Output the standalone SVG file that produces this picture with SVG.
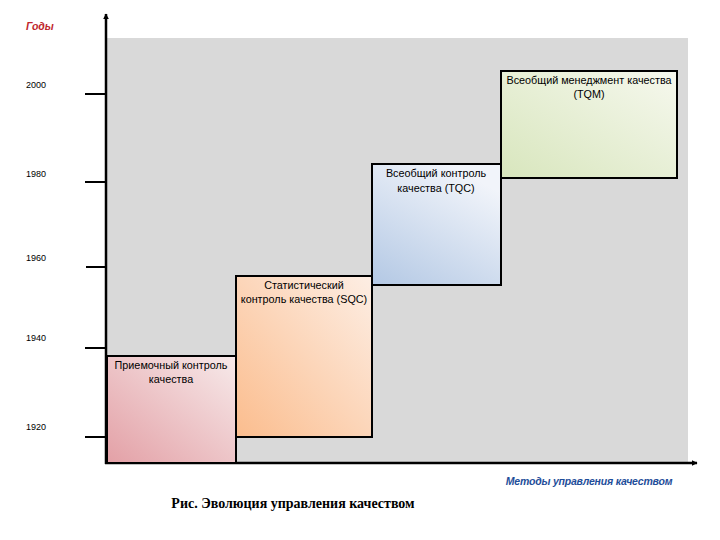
<svg xmlns="http://www.w3.org/2000/svg" width="720" height="540" viewBox="0 0 720 540">
<defs>
<linearGradient id="gGreen" x1="0" y1="1" x2="1" y2="0"><stop offset="0" stop-color="#d8e6bd"/><stop offset="1" stop-color="#f6f8ee"/></linearGradient>
<linearGradient id="gBlue" x1="0" y1="1" x2="0.6" y2="0"><stop offset="0" stop-color="#b3c8e4"/><stop offset="1" stop-color="#f1f4fa"/></linearGradient>
<linearGradient id="gOrange" x1="0" y1="1" x2="1" y2="0"><stop offset="0" stop-color="#fbbd8e"/><stop offset="1" stop-color="#fdeee4"/></linearGradient>
<linearGradient id="gPink" x1="0" y1="1" x2="1" y2="0"><stop offset="0" stop-color="#e3a0a6"/><stop offset="1" stop-color="#f7eaea"/></linearGradient>
<marker id="arr" viewBox="0 0 10 10" refX="9" refY="5" markerWidth="6" markerHeight="6" orient="auto" markerUnits="userSpaceOnUse"><path d="M0,0 L10,5 L0,10 z" fill="#000"/></marker>
<style>
.box{stroke:#000;stroke-width:2}
.lbl{font-family:"Liberation Sans",Arial,sans-serif;font-size:10.8px;fill:#000;text-anchor:middle}
.yr{font-family:"Liberation Sans",Arial,sans-serif;font-size:9px;fill:#000}
.axis{stroke:#000;stroke-width:2.5;fill:none}
.tick{stroke:#000;stroke-width:2}
</style>
</defs>
<rect x="0" y="0" width="720" height="540" fill="#fff"/>
<rect x="107" y="38" width="581" height="425" fill="#d9d9d9"/>
<g id="axes">
<line class="axis" x1="106" y1="464" x2="106" y2="14" marker-end="url(#arr)"/>
<line class="axis" x1="105" y1="463" x2="697" y2="463" marker-end="url(#arr)"/>
<line class="tick" x1="85" y1="94" x2="106" y2="94"/>
<line class="tick" x1="85" y1="182" x2="106" y2="182"/>
<line class="tick" x1="86" y1="267" x2="106" y2="267"/>
<line class="tick" x1="85" y1="348" x2="106" y2="348"/>
<line class="tick" x1="85" y1="437" x2="106" y2="437"/>
</g>
<g id="labels">
<text x="26" y="30" font-family="'Liberation Sans',Arial,sans-serif" font-size="10.5" font-style="italic" font-weight="bold" fill="#c0262d">Годы</text>
<text class="yr" x="26" y="88">2000</text>
<text class="yr" x="26" y="177">1980</text>
<text class="yr" x="26" y="261">1960</text>
<text class="yr" x="26" y="341">1940</text>
<text class="yr" x="26" y="430">1920</text>
<text x="589" y="485" font-family="'Liberation Sans',Arial,sans-serif" font-size="10.5" font-style="italic" font-weight="bold" fill="#1f4e9a" text-anchor="middle" letter-spacing="-0.2">Методы управления качеством</text>
<text x="293" y="508" font-family="'Liberation Serif','Times New Roman',serif" font-size="14" font-weight="bold" fill="#000" text-anchor="middle">Рис. Эволюция управления качеством</text>
</g>
<g id="tqm">
<rect class="box" x="501" y="71" width="176" height="107" fill="url(#gGreen)"/>
<text class="lbl" x="589" y="84">Всеобщий менеджмент качества</text>
<text class="lbl" x="589" y="98">(TQM)</text>
</g>
<g id="tqc">
<rect class="box" x="372" y="164" width="129" height="121" fill="url(#gBlue)"/>
<text class="lbl" x="436" y="177">Всеобщий контроль</text>
<text class="lbl" x="436" y="192">качества (TQC)</text>
</g>
<g id="sqc">
<rect class="box" x="236" y="276" width="136" height="161" fill="url(#gOrange)"/>
<text class="lbl" x="304" y="289">Статистический</text>
<text class="lbl" x="304" y="303">контроль качества (SQC)</text>
</g>
<g id="acceptance">
<rect class="box" x="107" y="356" width="129" height="107" fill="url(#gPink)"/>
<text class="lbl" x="171" y="369">Приемочный контроль</text>
<text class="lbl" x="171" y="383">качества</text>
</g>
</svg>
